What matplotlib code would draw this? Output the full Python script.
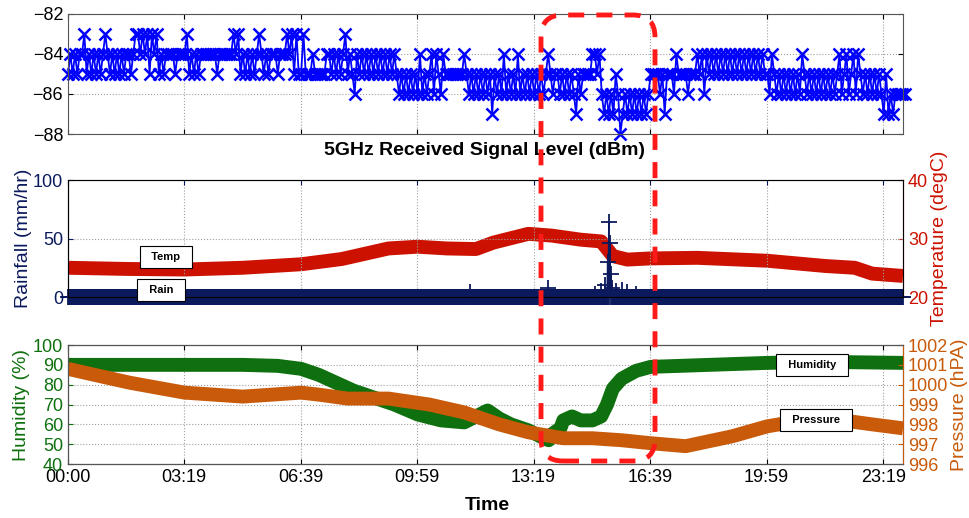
import matplotlib.pyplot as plt
import numpy as np
from matplotlib.patches import FancyBboxPatch
from matplotlib.transforms import IdentityTransform

plt.rcParams['font.family'] = ['Liberation Sans', 'DejaVu Sans']

# time axis, minutes after midnight
tick_min = [0, 199, 399, 599, 799, 999, 1199, 1399]
tick_lab = ['00:00', '03:19', '06:39', '09:59', '13:19', '16:39', '19:59', '23:19']
t_end = 1433

# 5GHz received signal level, one sample every 4 min, digit d means -8d dBm
rsl_codes = ("5454544354" "5454543454" "5454544543"
             "3434353435" "4544445444" "4354545444"
             "4444544444" "4343545454" "5434545444"
             "5444343535" "5355545555" "5445454543"
             "5456454545" "4545454545" "4565656565"
             "6465654645" "6455555555" "4565656565"
             "6575656465" "6564656565" "6565654565"
             "5656565675" "6555544546" "7676756876"
             "7676767676" "5555657555" "6455556555"
             "4546454545" "4545454545" "4545454545"
             "5645656565" "6565645656" "5656565656"
             "5465465464" "5656565656" "7576766666")
rsl = np.array([-80 - int(c) for c in rsl_codes])
rsl_min = np.arange(len(rsl)) * 4

# rainfall (mm/hr), zero except these minutes
rain_min = [690, 824, 905, 915, 922, 926, 928, 930, 932, 934, 940, 950, 960, 975]
rain_val = [4, 8, 3, 5, 10, 30, 64, 46, 20, 8, 5, 6, 4, 3]
minutes = np.arange(0, t_end + 1)
rain = np.zeros(len(minutes))
rain[rain_min] = rain_val

# temperature (degC)
temp_min = [0, 100, 200, 300, 400, 470, 550, 600, 650, 700, 730, 790, 830, 880,
            915, 935, 960, 1000, 1080, 1200, 1300, 1350, 1380, 1433]
temp_val = [25.0, 24.8, 24.7, 25.0, 25.6, 26.5, 28.3, 28.6, 28.3, 28.2, 29.3, 30.8,
            30.5, 29.8, 29.5, 27.0, 26.4, 26.6, 26.7, 26.2, 25.3, 25.0, 24.0, 23.6]

# humidity (%)
hum_min = [0, 100, 200, 300, 360, 400, 430, 460, 490, 520, 560, 600, 640, 680, 700,
           720, 740, 760, 790, 810, 825, 830, 845, 850, 865, 880, 900, 915, 925, 935,
           950, 975, 1000, 1100, 1200, 1300, 1433]
hum_val = [90, 90, 90, 90, 89.5, 88, 85, 81, 77, 74, 70, 65, 62, 61, 64,
           67, 63, 60, 57, 54, 52, 55, 58, 62, 64, 62, 62, 64, 70, 78,
           83, 87, 89, 90, 91, 91.5, 91]

# pressure (hPa)
pres_min = [0, 60, 106, 200, 300, 350, 400, 430, 480, 550, 620, 680, 740, 790, 850,
            900, 950, 1000, 1060, 1140, 1200, 1260, 1330, 1380, 1433]
pres_val = [1000.8, 1000.4, 1000.1, 999.6, 999.4, 999.5, 999.6, 999.5, 999.3, 999.3,
            999.0, 998.6, 998.0, 997.6, 997.3, 997.3, 997.2, 997.05, 996.9, 997.4,
            997.9, 998.2, 998.2, 998.0, 997.8]

blue = '#0000ff'
navy = '#0b1a5c'
red = '#cc1100'
green = '#0e700e'
orange = '#c85a0a'
grid_kw = dict(linestyle=':', color='#a0a0a0', linewidth=0.8)

fig = plt.figure(figsize=(9.69, 5.18), dpi=100)

# signal level
ax1 = fig.add_axes([0.0702, 0.7413, 0.8617, 0.2317])
ax1.plot(rsl_min, rsl, color=blue, lw=1.3, marker='x', ms=9, mew=1.8, clip_on=False)
ax1.set_xlim(0, t_end)
ax1.set_ylim(-88, -82)
ax1.set_yticks([-88, -86, -84, -82])
ax1.set_xticks(tick_min)
ax1.set_xticklabels([])
ax1.grid(True, **grid_kw)
ax1.tick_params(direction='in', top=True, right=True, labelsize=13)
for s in ax1.spines.values():
    s.set_color('#555555')

# rain + temperature
ax2 = fig.add_axes([0.0702, 0.4266, 0.8617, 0.2259])
ax2b = ax2.twinx()
ax2.set_zorder(ax2b.get_zorder() + 1)
ax2.patch.set_visible(False)
ax2.plot(minutes, rain, color=navy, lw=1, marker='+', ms=11, mew=1.3, clip_on=False)
ax2b.plot(temp_min, temp_val, color=red, lw=10, solid_capstyle='butt')
ax2.set_xlim(0, t_end)
ax2.set_ylim(0, 100)
ax2.set_yticks([0, 50, 100])
ax2b.set_ylim(20, 40)
ax2b.set_yticks([20, 30, 40])
ax2.set_xticks(tick_min)
ax2.set_xticklabels([])
ax2.grid(True, **grid_kw)
ax2.tick_params(direction='in', top=True, labelsize=13, colors=navy)
ax2b.tick_params(direction='in', labelsize=13, colors=red)
ax2.set_ylabel('Rainfall (mm/hr)', color=navy, fontsize=14)
ax2.yaxis.set_label_coords(-0.043, 0.5)
ax2b.set_ylabel('Temperature (degC)', color=red, fontsize=14, labelpad=2)
ax2b.spines['right'].set_color(red)
ax2b.spines['left'].set_color(navy)
ax2b.spines['top'].set_color('#555555')
ax2b.spines['bottom'].set_color('#555555')

# humidity + pressure
ax3 = fig.add_axes([0.0702, 0.1042, 0.8617, 0.2297])
ax3b = ax3.twinx()
ax3.plot(hum_min, hum_val, color=green, lw=10, solid_capstyle='butt')
ax3b.plot(pres_min, pres_val, color=orange, lw=10, solid_capstyle='butt')
ax3.set_xlim(0, t_end)
ax3.set_ylim(40, 100)
ax3.set_yticks(range(40, 101, 10))
ax3b.set_ylim(996, 1002)
ax3b.set_yticks(range(996, 1003))
ax3.set_xticks(tick_min)
ax3.set_xticklabels(tick_lab)
ax3.grid(True, **grid_kw)
ax3.tick_params(axis='x', direction='in', top=True, labelsize=13)
ax3.tick_params(axis='y', direction='in', labelsize=13, colors=green)
ax3b.tick_params(direction='in', labelsize=13, colors=orange)
ax3.set_ylabel('Humidity (%)', color=green, fontsize=14, labelpad=2)
ax3b.set_ylabel('Pressure (hPA)', color=orange, fontsize=14)
ax3b.yaxis.set_label_coords(1.057, 0.5)
ax3b.spines['right'].set_color(orange)
for k in ['left', 'top', 'bottom']:
    ax3b.spines[k].set_color('#555555')

# titles
fig.text(0.5005, 0.7104, '5GHz Received Signal Level (dBm)', fontsize=14,
         fontweight='bold', ha='center', va='center')
fig.text(0.5026, 0.025, 'Time', fontsize=14, fontweight='bold', ha='center', va='center')

# series labels
box = dict(boxstyle='square,pad=0.5', facecolor='white', edgecolor='black', lw=0.8)
for x, y, s in [(0.1713, 0.5039, 'Temp'), (0.1662, 0.4402, 'Rain'),
                (0.838, 0.2954, 'Humidity'), (0.8421, 0.1892, 'Pressure')]:
    fig.text(x, y, '  ' + s + '  ', fontsize=8, fontweight='bold',
             ha='center', va='center', bbox=box, zorder=10)

# red dashed highlight (pixel coords)
hl = FancyBboxPatch((541, 518 - 461), 655 - 541, 461 - 15,
                    boxstyle='round,pad=0,rounding_size=22',
                    transform=IdentityTransform(), fill=False,
                    edgecolor='#ff1a1a', lw=3.5, linestyle=(0, (3.3, 2.5)), zorder=20)
fig.add_artist(hl)

fig.savefig('out.png', dpi=100)
